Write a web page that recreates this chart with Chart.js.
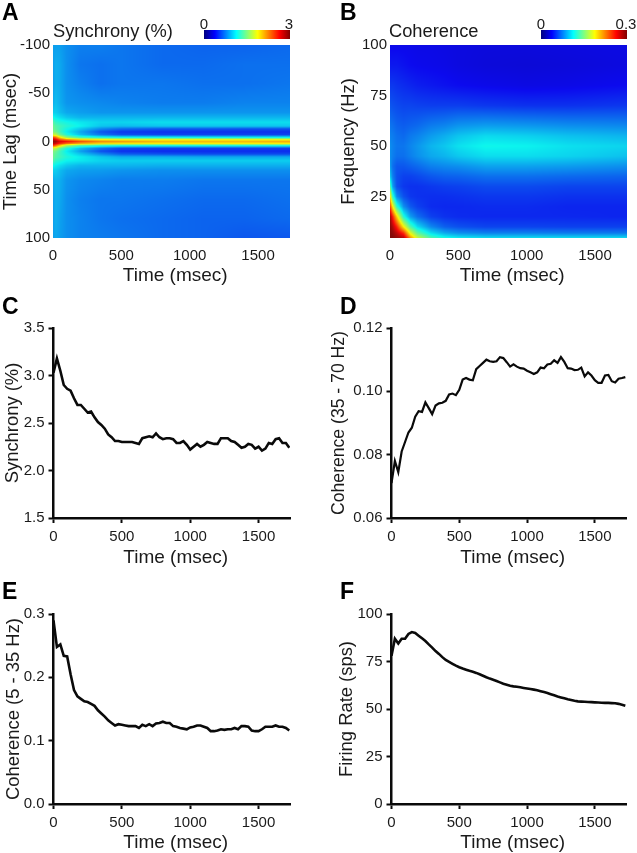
<!DOCTYPE html>
<html>
<head>
<meta charset="utf-8">
<title>Synchrony and coherence</title>
<script src="https://cdn.jsdelivr.net/npm/chart.js@4"></script>
<style>
  html, body { margin: 0; padding: 0; background: #fff; }
  body { position: relative; width: 637px; height: 853px; overflow: hidden; font-family: "Liberation Sans", Arial, sans-serif; color: #1a1a1a; }
  canvas { position: absolute; }
  .letter { position: absolute; font-weight: bold; font-size: 23px; line-height: 22px; color: #000; }
  .title { position: absolute; font-size: 18.3px; line-height: 20px; }
  .cbar { position: absolute; height: 9px; background: linear-gradient(to right, #00007f, #0000ff 12.5%, #00ffff 37.5%, #ffff00 62.5%, #ff0000 87.5%, #7f0000); }
  .cval { position: absolute; font-size: 15px; line-height: 15px; transform: translateX(-50%); }
</style>
</head>
<body>
<canvas id="panelA" width="320" height="290" style="left:0;top:0"></canvas>
<canvas id="panelB" width="317" height="290" style="left:320px;top:0"></canvas>
<canvas id="panelC" width="320" height="280" style="left:0;top:290px"></canvas>
<canvas id="panelD" width="317" height="280" style="left:320px;top:290px"></canvas>
<canvas id="panelE" width="320" height="283" style="left:0;top:570px"></canvas>
<canvas id="panelF" width="317" height="283" style="left:320px;top:570px"></canvas>

<div class="letter" style="left:2px;top:1px">A</div>
<div class="letter" style="left:340px;top:1px">B</div>
<div class="letter" style="left:2px;top:295px">C</div>
<div class="letter" style="left:340px;top:295px">D</div>
<div class="letter" style="left:2px;top:580px">E</div>
<div class="letter" style="left:340px;top:580px">F</div>

<div class="title" style="left:53px;top:21px">Synchrony (%)</div>
<div class="title" style="left:389px;top:21px">Coherence</div>
<div class="cval" style="left:204px;top:16px">0</div>
<div class="cval" style="left:289px;top:16px">3</div>
<div class="cval" style="left:541px;top:16px">0</div>
<div class="cval" style="left:626px;top:16px">0.3</div>
<div class="cbar" style="left:204px;top:30px;width:86px"></div>
<div class="cbar" style="left:541px;top:30px;width:86px"></div>

<script>
// time axis of the four line panels (msec)
const timeMs = [0,25,50,75,100,125,150,175,200,225,250,275,300,325,350,375,400,425,450,475,500,525,550,575,600,625,650,675,700,725,750,775,800,825,850,875,900,925,950,975,1000,1025,1050,1075,1100,1125,1150,1175,1200,1225,1250,1275,1300,1325,1350,1375,1400,1425,1450,1475,1500,1525,1550,1575,1600,1625,1650,1675,1700,1725];
const timeTicks = [0,500,1000,1500];

const synchrony = [3.03,3.18,3.05,2.90,2.86,2.84,2.76,2.69,2.69,2.65,2.61,2.62,2.56,2.51,2.48,2.44,2.38,2.35,2.31,2.31,2.30,2.30,2.30,2.30,2.29,2.28,2.34,2.35,2.36,2.35,2.39,2.35,2.33,2.34,2.34,2.33,2.29,2.29,2.31,2.27,2.22,2.25,2.28,2.25,2.27,2.30,2.29,2.28,2.28,2.34,2.34,2.34,2.31,2.30,2.27,2.24,2.25,2.28,2.27,2.23,2.25,2.21,2.23,2.29,2.28,2.33,2.34,2.29,2.29,2.24];
const cohGamma = [.071,.078,.0745,.081,.084,.087,.0885,.092,.0937,.0935,.0965,.0947,.0928,.0955,.0962,.0964,.097,.099,.0993,.0988,.1005,.1037,.1042,.1037,.1035,.107,.108,.109,.110,.1095,.1093,.1095,.1108,.1105,.1092,.1078,.1085,.1078,.1073,.1072,.1065,.106,.1055,.106,.1075,.1073,.1085,.1087,.1098,.109,.1108,.1093,.1073,.1072,.1067,.1068,.1075,.1047,.106,.105,.1035,.1027,.1027,.105,.1052,.1032,.1028,.104,.1042,.1045];
const cohLow = [.29,.248,.252,.234,.233,.205,.18,.17,.166,.162,.161,.158,.155,.148,.143,.138,.132,.128,.124,.126,.125,.124,.123,.123,.123,.12,.125,.123,.126,.123,.127,.128,.13,.128,.128,.123,.122,.12,.119,.118,.121,.122,.124,.124,.122,.12,.115,.115,.116,.118,.117,.118,.118,.12,.118,.123,.123,.122,.116,.115,.115,.118,.122,.122,.122,.124,.122,.122,.12,.116];
const firingRate = [78,87,84.5,87,87,89.5,90.5,90,88.6,87.2,85.8,84,82.3,80.5,79,77.3,75.8,74.8,73.8,72.8,72,71.3,70.7,70.1,69.6,69,68.3,67.5,66.7,66,65.4,64.7,64,63.3,62.8,62.2,61.9,61.7,61.4,61.1,60.8,60.5,60.2,59.9,59.4,58.9,58.4,57.8,57.2,56.6,56.1,55.6,55.1,54.7,54.3,54,53.9,53.8,53.7,53.6,53.5,53.4,53.3,53.2,53.2,53.1,53,52.7,52.2,51.7];

// panel A grid: one row per lag, one value per column of synchTimes
const synchTimes = [0,20,50,100,200,350,500,800,1100,1400,1730];
const synchLags = [-100,-80,-60,-40,-30,-25,-20,-16,-13,-10,-7,-4,-2,0,2,4,7,10,13,16,20,25,30,40,60,80,100];
const synchGrid = [
  [.85,.85,.85,.80,.75,.75,.72,.68,.66,.66,.68],
  [.85,.90,.88,.80,.72,.70,.72,.68,.68,.70,.70],
  [.85,.90,.88,.80,.75,.70,.72,.72,.70,.70,.72],
  [.90,.95,.90,.82,.80,.78,.76,.74,.74,.76,.76],
  [1.0,1.0,.95,.88,.85,.82,.82,.82,.82,.82,.82],
  [1.15,1.1,1.05,.98,.92,.92,.92,.92,.92,.92,.92],
  [1.35,1.25,1.2,1.15,1.08,1.02,1.02,1.05,1.05,1.05,1.05],
  [1.45,1.35,1.3,1.22,1.12,.98,.95,.98,.98,.98,.98],
  [1.45,1.38,1.28,1.15,.98,.78,.68,.62,.62,.60,.60],
  [1.5,1.45,1.3,1.1,.88,.62,.52,.50,.50,.50,.50],
  [1.75,1.7,1.45,1.2,.95,.72,.60,.56,.56,.56,.56],
  [2.5,2.35,2.0,1.6,1.35,1.25,1.2,1.2,1.18,1.18,1.18],
  [2.8,2.7,2.4,2.2,2.0,1.9,1.85,1.85,1.85,1.85,1.85],
  [2.95,2.9,2.7,2.6,2.4,2.2,2.15,2.05,2.05,2.05,2.1],
  [2.85,2.75,2.55,2.35,2.15,2.0,1.95,1.92,1.92,1.92,1.92],
  [2.5,2.35,2.05,1.65,1.4,1.3,1.25,1.22,1.22,1.22,1.22],
  [1.75,1.7,1.45,1.2,.95,.72,.58,.55,.55,.55,.55],
  [1.5,1.45,1.3,1.1,.85,.60,.50,.48,.48,.48,.48],
  [1.45,1.38,1.28,1.15,.98,.78,.64,.60,.58,.58,.58],
  [1.45,1.35,1.3,1.2,1.1,.98,.90,.90,.88,.88,.88],
  [1.35,1.25,1.2,1.12,1.08,1.02,1.0,1.0,1.0,1.0,1.0],
  [1.15,1.1,1.05,.98,.92,.92,.92,.90,.90,.90,.90],
  [1.0,1.0,.95,.88,.85,.84,.82,.80,.80,.80,.80],
  [.88,.92,.90,.82,.78,.76,.74,.74,.72,.72,.72],
  [.85,.90,.88,.80,.75,.72,.72,.70,.68,.68,.70],
  [.85,.90,.86,.80,.76,.72,.70,.68,.66,.66,.68],
  [.85,.88,.85,.80,.76,.74,.72,.68,.66,.62,.62]
];

// panel B grid: one row per frequency, one value per column of cohTimes
const cohTimes = [0,20,50,100,150,200,300,400,500,700,1000,1300,1730];
const cohFreqs = [100,90,80,70,60,55,50,45,40,35,30,25,20,15,10,7,4.5];
const cohGrid = [
  [.036,.036,.036,.036,.036,.035,.035,.034,.033,.032,.032,.033,.034],
  [.042,.042,.042,.040,.038,.037,.036,.035,.033,.031,.030,.031,.033],
  [.052,.052,.050,.048,.046,.044,.042,.040,.038,.036,.034,.035,.038],
  [.062,.060,.058,.056,.056,.055,.054,.054,.054,.052,.050,.050,.052],
  [.072,.070,.066,.064,.066,.068,.074,.077,.082,.085,.083,.080,.078],
  [.076,.074,.070,.068,.073,.076,.084,.090,.097,.104,.101,.096,.092],
  [.080,.076,.072,.072,.077,.082,.092,.098,.106,.114,.112,.106,.102],
  [.080,.075,.070,.070,.075,.080,.088,.092,.098,.105,.105,.102,.096],
  [.085,.070,.062,.062,.065,.068,.075,.078,.080,.086,.086,.084,.080],
  [.100,.075,.060,.055,.055,.057,.062,.065,.066,.070,.070,.068,.066],
  [.140,.085,.060,.052,.050,.050,.052,.054,.055,.058,.058,.056,.056],
  [.200,.125,.078,.060,.052,.050,.049,.049,.050,.052,.052,.050,.050],
  [.250,.190,.125,.080,.063,.055,.048,.047,.047,.048,.048,.046,.046],
  [.295,.255,.200,.120,.085,.070,.055,.050,.048,.047,.047,.047,.046],
  [.300,.285,.255,.190,.135,.105,.078,.065,.060,.056,.056,.055,.055],
  [.300,.295,.280,.250,.180,.140,.105,.088,.080,.075,.075,.073,.073],
  [.300,.300,.295,.285,.220,.175,.135,.118,.110,.105,.105,.105,.105]
];

const textColor = '#1a1a1a';
const tickFont = { family: '"Liberation Sans", Arial, sans-serif', size: 15 };
const titleFont = { family: '"Liberation Sans", Arial, sans-serif', size: 18.4 };
const xTitleFont = { family: '"Liberation Sans", Arial, sans-serif', size: 19 };

function jet(t) {
  const ramp = (a) => Math.max(0, Math.min(1, 1.5 - Math.abs(4 * t - a)));
  return [ramp(3) * 255, ramp(2) * 255, ramp(1) * 255];
}

function bracket(list, v) {
  // list may run up or down, returns index of lower cell and the fraction inside it
  const up = list[1] > list[0];
  for (let i = 0; i < list.length - 1; i++) {
    const hit = up ? v <= list[i + 1] : v >= list[i + 1];
    if (hit) return [i, Math.max(0, Math.min(1, (v - list[i]) / (list[i + 1] - list[i])))];
  }
  return [list.length - 2, 1];
}

// paints the grid pixel by pixel, each pixel placed through the chart scales
function gridPlugin(times, rows, grid, top) {
  return {
    id: 'gridPaint',
    beforeDatasetsDraw(chart) {
      const a = chart.chartArea;
      const w = Math.round(a.right - a.left), h = Math.round(a.bottom - a.top);
      const off = document.createElement('canvas');
      off.width = w; off.height = h;
      const c = off.getContext('2d');
      const img = c.createImageData(w, h);
      for (let py = 0; py < h; py++) {
        const [j, fy] = bracket(rows, chart.scales.y.getValueForPixel(a.top + py + .5));
        for (let px = 0; px < w; px++) {
          const [i, fx] = bracket(times, chart.scales.x.getValueForPixel(a.left + px + .5));
          const v = (grid[j][i] * (1 - fx) + grid[j][i + 1] * fx) * (1 - fy) +
                    (grid[j + 1][i] * (1 - fx) + grid[j + 1][i + 1] * fx) * fy;
          const col = jet(v / top);
          const k = (py * w + px) * 4;
          // slight mute, the printed colours are a bit softer than pure jet
          img.data[k] = col[0] * .92 + 12; img.data[k + 1] = col[1] * .92 + 10; img.data[k + 2] = col[2] * .9 + 8; img.data[k + 3] = 255;
        }
      }
      c.putImageData(img, 0, 0);
      chart.ctx.drawImage(off, a.left, a.top);
    }
  };
}

// the "Time (msec)" label sits a few px right of the axis centre in the figure
function nudgeTitle(s) {
  if (s.nudged) return;
  s.nudged = true;
  const draw = s.drawTitle;
  s.drawTitle = function () {
    s.ctx.save();
    s.ctx.translate(4, 0);
    draw.call(s);
    s.ctx.restore();
  };
}

function panel(id, cfg) {
  const canvas = document.getElementById(id);
  const framed = cfg.framed;
  new Chart(canvas.getContext('2d'), {
    type: 'scatter',
    data: { datasets: [{
      data: cfg.data,
      showLine: !framed,
      pointRadius: 0,
      borderColor: '#0a0a0a',
      borderWidth: cfg.lineWidth || 2.6,
      tension: 0
    }] },
    plugins: cfg.plugins || [],
    options: {
      responsive: false,
      animation: false,
      events: [],
      layout: { padding: { left: 0, top: cfg.top, right: canvas.width - cfg.right, bottom: 0 } },
      plugins: { legend: { display: false }, tooltip: { enabled: false } },
      scales: {
        x: {
          type: 'linear', min: 0, max: 1730,
          afterBuildTicks: (s) => { s.ticks = timeTicks.map((v) => ({ value: v })); },
          afterFit: (s) => { s.height = canvas.height - cfg.bottom; nudgeTitle(s); },
          ticks: { color: textColor, font: tickFont, maxRotation: 0, padding: framed ? 9 : 5, callback: (v) => String(v) },
          grid: { drawOnChartArea: false, drawTicks: !framed, tickLength: 5, tickColor: '#0a0a0a', tickWidth: 2 },
          border: { display: !framed, color: '#0a0a0a', width: 2.5 },
          title: { display: true, text: 'Time (msec)', color: textColor, font: xTitleFont, padding: { top: 0, bottom: cfg.xTitleBottom } }
        },
        y: {
          type: 'linear', min: cfg.yMin, max: cfg.yMax, reverse: !!cfg.reverse,
          afterBuildTicks: (s) => { s.ticks = cfg.yTicks.map((v) => ({ value: v })); },
          afterFit: (s) => { s.width = cfg.left; },
          ticks: { color: textColor, font: tickFont, padding: framed ? 3 : 4, callback: (v) => cfg.yFmt ? v.toFixed(cfg.yFmt) : String(v) },
          grid: { drawOnChartArea: false, drawTicks: !framed, tickLength: 5, tickColor: '#0a0a0a', tickWidth: 2 },
          border: { display: !framed, color: '#0a0a0a', width: 2.5 },
          title: { display: true, text: cfg.yTitle, color: textColor, font: cfg.yTitleFont || titleFont, padding: { top: cfg.yTitleLeft, bottom: 0 } }
        }
      }
    }
  });
}

const pairs = (vals) => timeMs.map((t, i) => ({ x: t, y: vals[i] }));
const cells = (times, rows, grid) => rows.flatMap((r, j) => times.map((t, i) => ({ x: t, y: r, v: grid[j][i] })));

panel('panelA', { framed: true, left: 53, right: 289.5, top: 45, bottom: 238, yMin: -100, yMax: 100, reverse: true,
  yTicks: [-100,-50,0,50,100], yTitle: 'Time Lag (msec)', yTitleLeft: 0, xTitleBottom: 3,
  data: cells(synchTimes, synchLags, synchGrid), plugins: [gridPlugin(synchTimes, synchLags, synchGrid, 3)] });

panel('panelB', { framed: true, left: 70, right: 306.5, top: 45, bottom: 238, yMin: 4.5, yMax: 100,
  yTicks: [25,50,75,100], yTitle: 'Frequency (Hz)', yTitleLeft: 18, xTitleBottom: 3,
  data: cells(cohTimes, cohFreqs, cohGrid), plugins: [gridPlugin(cohTimes, cohFreqs, cohGrid, .3)] });

panel('panelC', { left: 53.5, right: 290, top: 38, bottom: 228, yMin: 1.5, yMax: 3.5, yFmt: 1,
  yTicks: [1.5,2,2.5,3,3.5], yTitle: 'Synchrony (%)', yTitleLeft: 2, xTitleBottom: 1, data: pairs(synchrony) });

panel('panelD', { left: 71.5, right: 306, top: 38, bottom: 228, yMin: .06, yMax: .12, yFmt: 2,
  yTicks: [.06,.08,.1,.12], yTitle: 'Coherence (35 - 70 Hz)', yTitleLeft: 9, xTitleBottom: 1, data: pairs(cohGamma), lineWidth: 2.2,
  yTitleFont: { family: '"Liberation Sans", Arial, sans-serif', size: 17.6 } });

panel('panelE', { left: 53.5, right: 290, top: 44, bottom: 234, yMin: 0, yMax: .3, yFmt: 1,
  yTicks: [0,.1,.2,.3], yTitle: 'Coherence (5 - 35 Hz)', yTitleLeft: 3, xTitleBottom: -1, data: pairs(cohLow) });

panel('panelF', { left: 71.5, right: 306, top: 44, bottom: 234, yMin: 0, yMax: 100,
  yTicks: [0,25,50,75,100], yTitle: 'Firing Rate (sps)', yTitleLeft: 16, xTitleBottom: -1, data: pairs(firingRate) });
</script>
</body>
</html>
